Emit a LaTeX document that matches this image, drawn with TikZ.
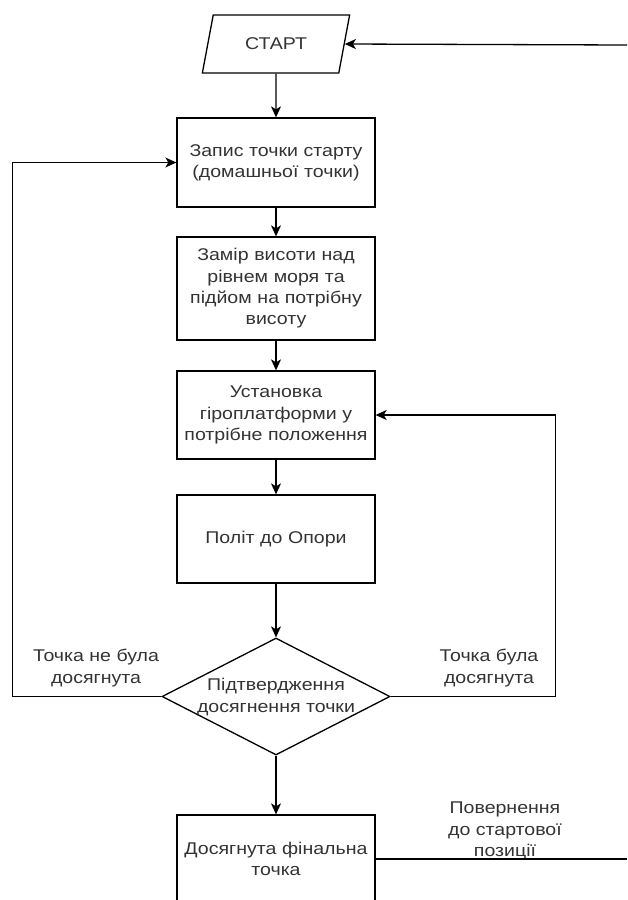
\documentclass[tikz,border=0pt]{standalone}
\usepackage{fontspec}
\setmainfont{Liberation Sans}[FakeStretch=1.15]
\usetikzlibrary{shapes.geometric,arrows.meta}
\begin{document}
\begin{tikzpicture}[x=1pt,y=-1pt,
  txt/.style={font=\fontsize{17}{21.3}\selectfont, align=center, text=black!80, inner sep=0pt},
  box/.style={txt, draw=black, line width=1.3pt, minimum width=198pt, text width=194pt},
  startbox/.style={txt, draw=black, line width=1.3pt, shape=trapezium, trapezium left angle=66, trapezium right angle=114, trapezium stretches=true, minimum width=148pt, minimum height=58pt},
  decision/.style={draw=black, line width=1.3pt, shape=diamond, minimum width=228pt, minimum height=117pt, inner sep=0pt},
  arr/.style={draw=black, line width=1.3pt, -{Stealth[length=11pt,width=10pt,inset=3pt]}},
  ln/.style={draw=black, line width=1.3pt}
]
\useasboundingbox (0,0) rectangle (627,900);
\clip (0,0) rectangle (627,900);

\node[startbox] (start) at (276,44) {СТАРТ};
\node[box, minimum height=89pt] (b1) at (276,162.5) {Запис точки старту\\(домашньої точки)};
\node[box, minimum height=103pt] (b2) at (276,288.5) {Замір висоти над\\рівнем моря та\\підйом на потрібну\\висоту};
\node[box, minimum height=88pt] (b3) at (276,415) {Установка\\гіроплатформи у\\потрібне положення};
\node[box, minimum height=88pt] (b4) at (276,539) {Політ до Опори};
\node[decision] (d) at (276,696.5) {};
\node[txt] (dt) at (276,697) {Підтвердження\\досягнення точки};
\node[box, minimum height=88pt] (b5) at (276,859) {Досягнута фінальна\\точка};

\node[txt] (lno) at (96,668) {Точка не була\\досягнута};
\node[txt] (lyes) at (489,668) {Точка була\\досягнута};
\node[txt] (lret) at (505,831) {Повернення\\до стартової\\позиції};

\coordinate (rtop) at (627,45);
\coordinate (rbot) at (627,859);

\draw[arr] (rtop) -- (start.east);
\draw[arr] (start.south) -- (b1.north);
\draw[arr] (b1.south) -- (b2.north);
\draw[arr] (b2.south) -- (b3.north);
\draw[arr] (b3.south) -- (b4.north);
\draw[arr] (b4.south) -- (d.north);
\draw[arr] (d.south) -- (b5.north);
\draw[arr] (d.west) -- ++(-149,0) |- (b1.west);
\draw[arr] (d.east) -- ++(165,0) |- (b3.east);
\draw[ln] (b5.east) -- (rbot);
\end{tikzpicture}
\end{document}
